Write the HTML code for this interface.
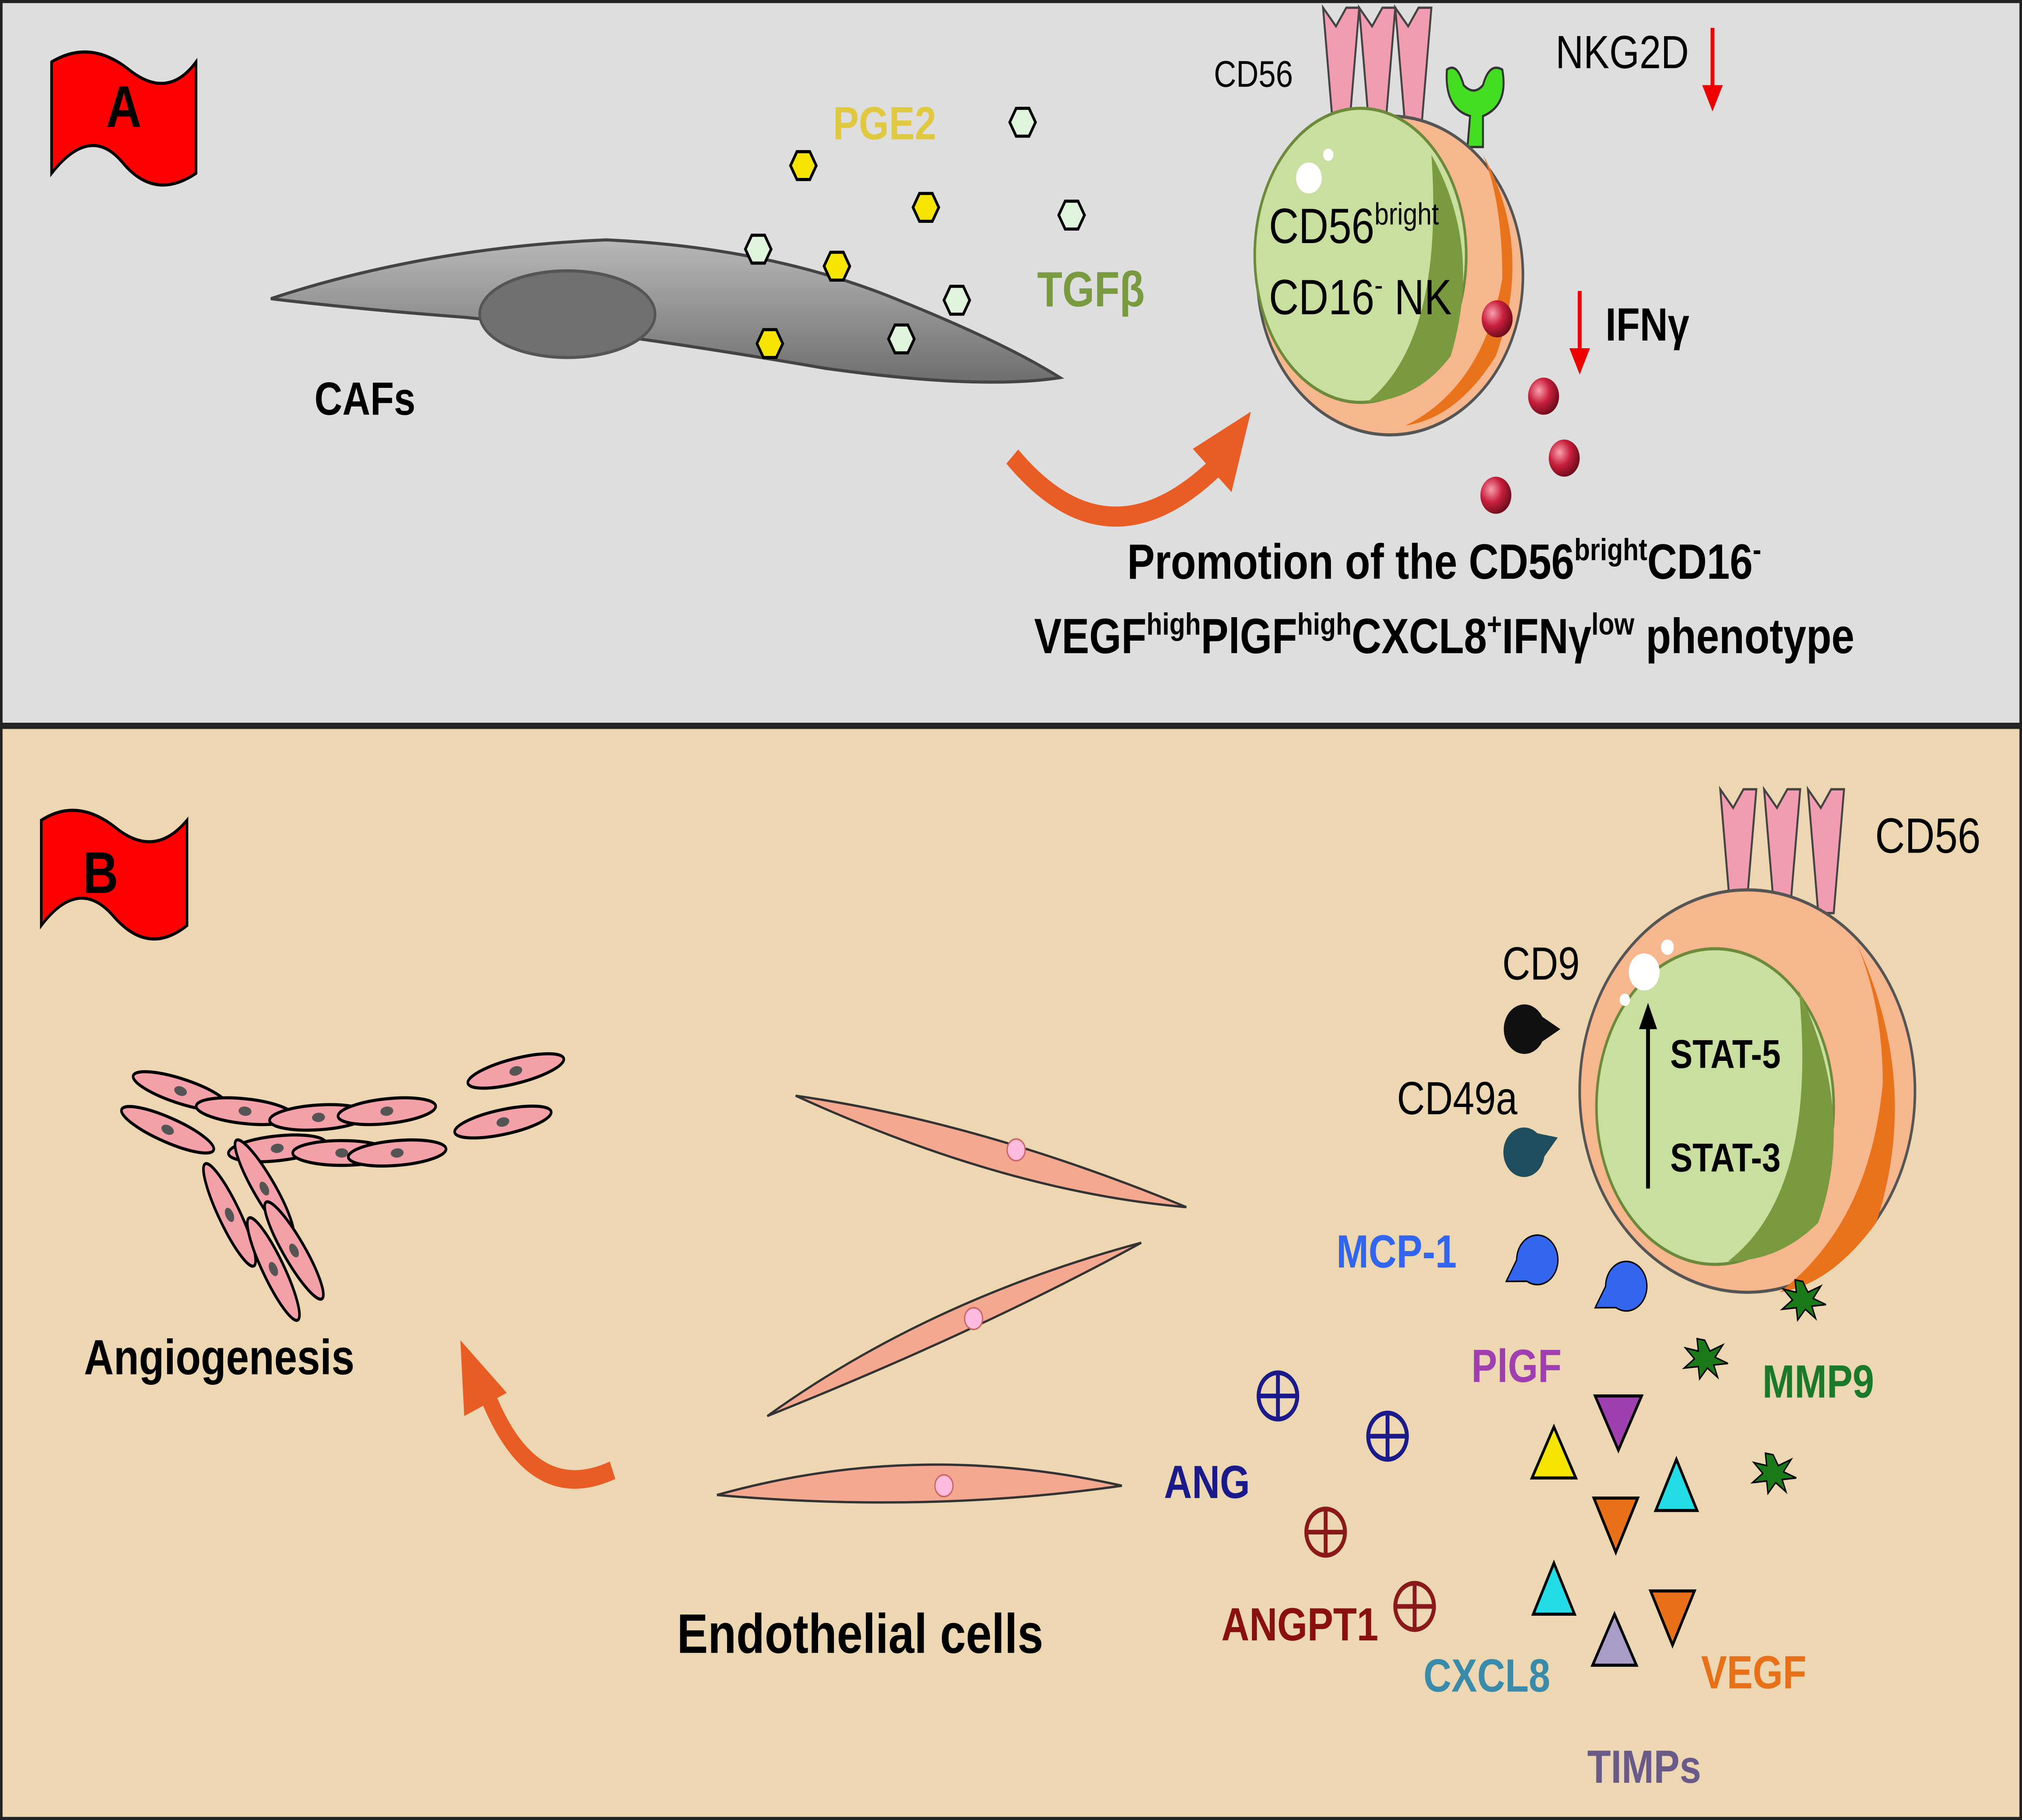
<!DOCTYPE html>
<html><head><meta charset="utf-8"><style>html,body{margin:0;padding:0;background:#fff;width:100%;height:100%;overflow:hidden}svg{display:block;width:100vw;height:100vh;position:fixed;left:0;top:0}text{font-family:"Liberation Sans","DejaVu Sans",sans-serif}</style></head><body>
<svg viewBox="0 0 1568 1176" preserveAspectRatio="none" xmlns="http://www.w3.org/2000/svg">
<defs>
<radialGradient id="rb" cx="0.35" cy="0.35" r="0.7"><stop offset="0" stop-color="#f8a0b0"/><stop offset="0.5" stop-color="#c8203c"/><stop offset="1" stop-color="#6a0a1a"/></radialGradient>
<linearGradient id="caf" x1="0" y1="0" x2="0" y2="1"><stop offset="0" stop-color="#b8b8b8"/><stop offset="1" stop-color="#6e6e6e"/></linearGradient>
<g id="hexY"><polygon points="-10,0 -5,-9 5,-9 10,0 5,9 -5,9" fill="#f5e400" stroke="#000" stroke-width="2"/></g>
<g id="hexG"><polygon points="-10,0 -5,-9 5,-9 10,0 5,9 -5,9" fill="#dff5dc" stroke="#000" stroke-width="2"/></g>
<g id="rec"><polygon points="-14,-40 -4,-28 4,-40 14,-40 6,40 -6,40" fill="#f19cb0" stroke="#444" stroke-width="1.5"/></g>
<g id="star"><polygon points="0,-12 4,-5 14,-9 8,-1 18,3 7,4 10,12 2,6 -4,13 -5,5 -16,6 -8,0 -15,-7 -5,-5 -6,-13" fill="#1a7a1a" stroke="#000" stroke-width="1"/></g>
<g id="cross"><circle r="15" fill="none" stroke-width="3"/><line x1="-15" y1="0" x2="15" y2="0" stroke-width="3"/><line x1="0" y1="-15" x2="0" y2="15" stroke-width="3"/></g>
<g id="pac"><path d="M0,0 L14,-8 A16,16 0 1 1 14,8 Z" /></g>
<g id="ecs"><ellipse rx="38" ry="8" fill="#f4a0a8" stroke="#000" stroke-width="2"/><ellipse rx="5" ry="3" fill="#555"/></g>
</defs>
<rect x="1" y="1" width="1566" height="467" fill="#dedede" stroke="#222" stroke-width="2"/>
<rect x="1" y="470" width="1566" height="705" fill="#ecd7b2" stroke="#222" stroke-width="2"/>
<path d="M40,40 Q70,25 100,45 T152,40 L152,112 Q120,130 95,105 T40,112 Z" fill="#ff0000" stroke="#000" stroke-width="2"/>
<text x="96" y="82" font-size="38" font-weight="bold" text-anchor="middle">A</text>
<path d="M32,530 Q60,515 90,535 T145,530 L145,598 Q115,618 88,592 T32,598 Z" fill="#ff0000" stroke="#000" stroke-width="2"/>
<text x="78" y="577" font-size="38" font-weight="bold" text-anchor="middle">B</text>
<path d="M210,193 Q330,160 470,155 Q600,160 700,195 Q780,222 822,244 Q760,252 640,238 Q480,215 360,205 Q280,200 210,193 Z" fill="url(#caf)" stroke="#444" stroke-width="2"/>
<ellipse cx="440" cy="203" rx="68" ry="28" fill="#707070" stroke="#555" stroke-width="2"/>
<text x="283" y="268" font-size="30" font-weight="bold" text-anchor="middle">CAFs</text>
<use href="#hexY" x="623" y="107"/><use href="#hexY" x="718" y="134"/><use href="#hexY" x="649" y="172"/><use href="#hexY" x="597" y="222"/>
<use href="#hexG" x="793" y="79"/><use href="#hexG" x="831" y="139"/><use href="#hexG" x="588" y="161"/><use href="#hexG" x="742" y="194"/><use href="#hexG" x="699" y="219"/>
<text x="686" y="90" font-size="30" font-weight="bold" fill="#e0c840" text-anchor="middle">PGE2</text>
<text x="846" y="198" font-size="32" font-weight="bold" fill="#7a9a40" text-anchor="middle">TGFβ</text>
<path d="M785,295 Q860,370 945,300" fill="none" stroke="#e95c24" stroke-width="13"/>
<polygon points="970,266 925,290 955,318" fill="#e95c24"/>
<use href="#rec" x="1040" y="45"/><use href="#rec" x="1068" y="45"/><use href="#rec" x="1096" y="45"/>
<path d="M1122,45 Q1120,70 1140,75 L1138,95 L1150,95 L1150,75 Q1170,68 1165,45 Q1155,40 1150,55 Q1143,62 1135,55 Q1130,40 1122,45 Z" fill="#44dd22" stroke="#333" stroke-width="1.5"/>
<circle cx="1078" cy="178" r="103" fill="#f6b78e" stroke="#555" stroke-width="2"/>
<path d="M1150,100 Q1190,160 1160,230 Q1130,270 1090,275 Q1150,250 1165,180 Q1165,130 1150,100 Z" fill="#e8731c"/>
<ellipse cx="1055" cy="165" rx="82" ry="95" fill="#c8dfa0" stroke="#6b8a3a" stroke-width="2"/>
<path d="M1110,100 Q1150,160 1125,230 Q1100,258 1060,260 Q1120,220 1110,100 Z" fill="#7a9a40"/>
<circle cx="1015" cy="115" r="10" fill="#fff"/><circle cx="1030" cy="100" r="4" fill="#fff"/>
<text x="972" y="56" font-size="24" text-anchor="middle">CD56</text>
<text x="1258" y="44" font-size="30" text-anchor="middle">NKG2D</text>
<line x1="1328" y1="18" x2="1328" y2="65" stroke="#e00" stroke-width="3"/><polygon points="1320,55 1336,55 1328,72" fill="#e00"/>
<line x1="1225" y1="188" x2="1225" y2="235" stroke="#e00" stroke-width="3"/><polygon points="1217,225 1233,225 1225,242" fill="#e00"/>
<text x="984" y="157" font-size="32">CD56<tspan font-size="20" dy="-12">bright</tspan></text>
<text x="984" y="203" font-size="32">CD16<tspan font-size="20" dy="-12">-</tspan><tspan dy="12"> NK</tspan></text>
<text x="1245" y="220" font-size="30" font-weight="bold">IFNγ</text>
<circle cx="1161" cy="206" r="12" fill="url(#rb)"/><circle cx="1197" cy="256" r="12" fill="url(#rb)"/><circle cx="1213" cy="296" r="12" fill="url(#rb)"/><circle cx="1160" cy="320" r="12" fill="url(#rb)"/>
<text x="1120" y="374" font-size="32" font-weight="bold" text-anchor="middle">Promotion of the CD56<tspan font-size="20" dy="-12">bright</tspan><tspan dy="12">CD16</tspan><tspan font-size="20" dy="-12">-</tspan></text>
<text x="1120" y="422" font-size="32" font-weight="bold" text-anchor="middle">VEGF<tspan font-size="20" dy="-12">high</tspan><tspan dy="12">PlGF</tspan><tspan font-size="20" dy="-12">high</tspan><tspan dy="12">CXCL8</tspan><tspan font-size="20" dy="-12">+</tspan><tspan dy="12">IFNγ</tspan><tspan font-size="20" dy="-12">low</tspan><tspan dy="12"> phenotype</tspan></text>
<use href="#ecs" transform="translate(140,705) rotate(15)"/><use href="#ecs" transform="translate(190,718) rotate(5)"/><use href="#ecs" transform="translate(247,722) rotate(-3)"/><use href="#ecs" transform="translate(300,718) rotate(-5)"/><use href="#ecs" transform="translate(400,692) rotate(-12)"/><use href="#ecs" transform="translate(390,725) rotate(-10)"/><use href="#ecs" transform="translate(130,730) rotate(20)"/><use href="#ecs" transform="translate(215,742) rotate(-5)"/><use href="#ecs" transform="translate(265,745) rotate(0)"/><use href="#ecs" transform="translate(308,745) rotate(-4)"/><use href="#ecs" transform="translate(178,785) rotate(60)"/><use href="#ecs" transform="translate(205,768) rotate(55)"/><use href="#ecs" transform="translate(212,820) rotate(60)"/><use href="#ecs" transform="translate(228,808) rotate(55)"/>
<text x="170" y="888" font-size="32" font-weight="bold" text-anchor="middle">Angiogenesis</text>
<path d="M475,950 Q410,975 375,895" fill="none" stroke="#e95c24" stroke-width="12"/>
<polygon points="357,866 360,915 393,900" fill="#e95c24"/>
<path d="M617,708 Q760,725 920,780 Q780,770 617,708 Z" fill="#f4a890" stroke="#333" stroke-width="1.5"/>
<path d="M595,915 Q720,840 885,803 Q760,860 595,915 Z" fill="#f4a890" stroke="#333" stroke-width="1.5"/>
<path d="M556,966 Q710,930 870,960 Q720,978 556,966 Z" fill="#f4a890" stroke="#333" stroke-width="1.5"/>
<circle cx="788" cy="743" r="7" fill="#fbd" stroke="#c66"/><circle cx="755" cy="852" r="7" fill="#fbd" stroke="#c66"/><circle cx="732" cy="960" r="7" fill="#fbd" stroke="#c66"/>
<text x="667" y="1068" font-size="36" font-weight="bold" text-anchor="middle">Endothelial cells</text>
<use href="#rec" x="1348" y="550"/><use href="#rec" x="1382" y="550"/><use href="#rec" x="1416" y="550"/>
<circle cx="1355" cy="705" r="130" fill="#f6b78e" stroke="#555" stroke-width="2"/>
<path d="M1440,610 Q1490,700 1455,790 Q1420,830 1380,835 Q1450,790 1460,700 Q1460,650 1440,610 Z" fill="#e8731c"/>
<ellipse cx="1330" cy="715" rx="92" ry="102" fill="#c8dfa0" stroke="#6b8a3a" stroke-width="2"/>
<path d="M1395,640 Q1440,720 1410,790 Q1380,815 1340,815 Q1410,770 1395,640 Z" fill="#7a9a40"/>
<circle cx="1275" cy="628" r="12" fill="#fff"/><circle cx="1293" cy="612" r="5" fill="#fff"/><circle cx="1260" cy="646" r="4" fill="#fff"/>
<text x="1495" y="551" font-size="32" text-anchor="middle">CD56</text>
<text x="1195" y="633" font-size="30" text-anchor="middle">CD9</text>
<text x="1130" y="720" font-size="30" text-anchor="middle">CD49a</text>
<use href="#pac" transform="translate(1210,665) rotate(180)" fill="#111"/>
<use href="#pac" transform="translate(1208,735) rotate(160)" fill="#1f4e5f"/>
<line x1="1278" y1="768" x2="1278" y2="660" stroke="#000" stroke-width="3"/><polygon points="1271,665 1285,665 1278,648" fill="#000"/>
<text x="1338" y="690" font-size="26" font-weight="bold" text-anchor="middle">STAT-5</text>
<text x="1338" y="757" font-size="26" font-weight="bold" text-anchor="middle">STAT-3</text>
<use href="#pac" transform="translate(1168,828) rotate(-30)" fill="#3366ee" stroke="#000" stroke-width="1"/>
<use href="#pac" transform="translate(1237,845) rotate(-30)" fill="#3366ee" stroke="#000" stroke-width="1"/>
<use href="#star" x="1398" y="840"/><use href="#star" x="1322" y="878"/><use href="#star" x="1375" y="952"/>
<use href="#cross" x="991" y="902" stroke="#1a1a8a"/><use href="#cross" x="1076" y="928" stroke="#1a1a8a"/>
<use href="#cross" x="1028" y="990" stroke="#8a1a1a"/><use href="#cross" x="1097" y="1038" stroke="#8a1a1a"/>
<polygon points="1205,922 1188,955 1222,955" fill="#f5e400" stroke="#000" stroke-width="2"/>
<polygon points="1237,902 1273,902 1255,937" fill="#a040b0" stroke="#000" stroke-width="2"/>
<polygon points="1300,943 1284,976 1316,976" fill="#22dde8" stroke="#000" stroke-width="2"/>
<polygon points="1236,968 1270,968 1253,1003" fill="#e87018" stroke="#000" stroke-width="2"/>
<polygon points="1205,1010 1189,1043 1221,1043" fill="#22dde8" stroke="#000" stroke-width="2"/>
<polygon points="1280,1028 1314,1028 1297,1063" fill="#e87018" stroke="#000" stroke-width="2"/>
<polygon points="1252,1043 1235,1076 1269,1076" fill="#a89cc8" stroke="#000" stroke-width="2"/>
<g font-size="30" font-weight="bold" text-anchor="middle">
<text x="1083" y="819" fill="#3366ee">MCP-1</text>
<text x="1176" y="893" fill="#a040b0">PlGF</text>
<text x="1410" y="903" fill="#1a7a2a">MMP9</text>
<text x="936" y="968" fill="#1a1a8a">ANG</text>
<text x="1008" y="1060" fill="#8a1010">ANGPT1</text>
<text x="1153" y="1093" fill="#3a8aaa">CXCL8</text>
<text x="1360" y="1091" fill="#e87018">VEGF</text>
<text x="1275" y="1152" fill="#6a5a8a">TIMPs</text>
</g>
</svg>
</body></html>
